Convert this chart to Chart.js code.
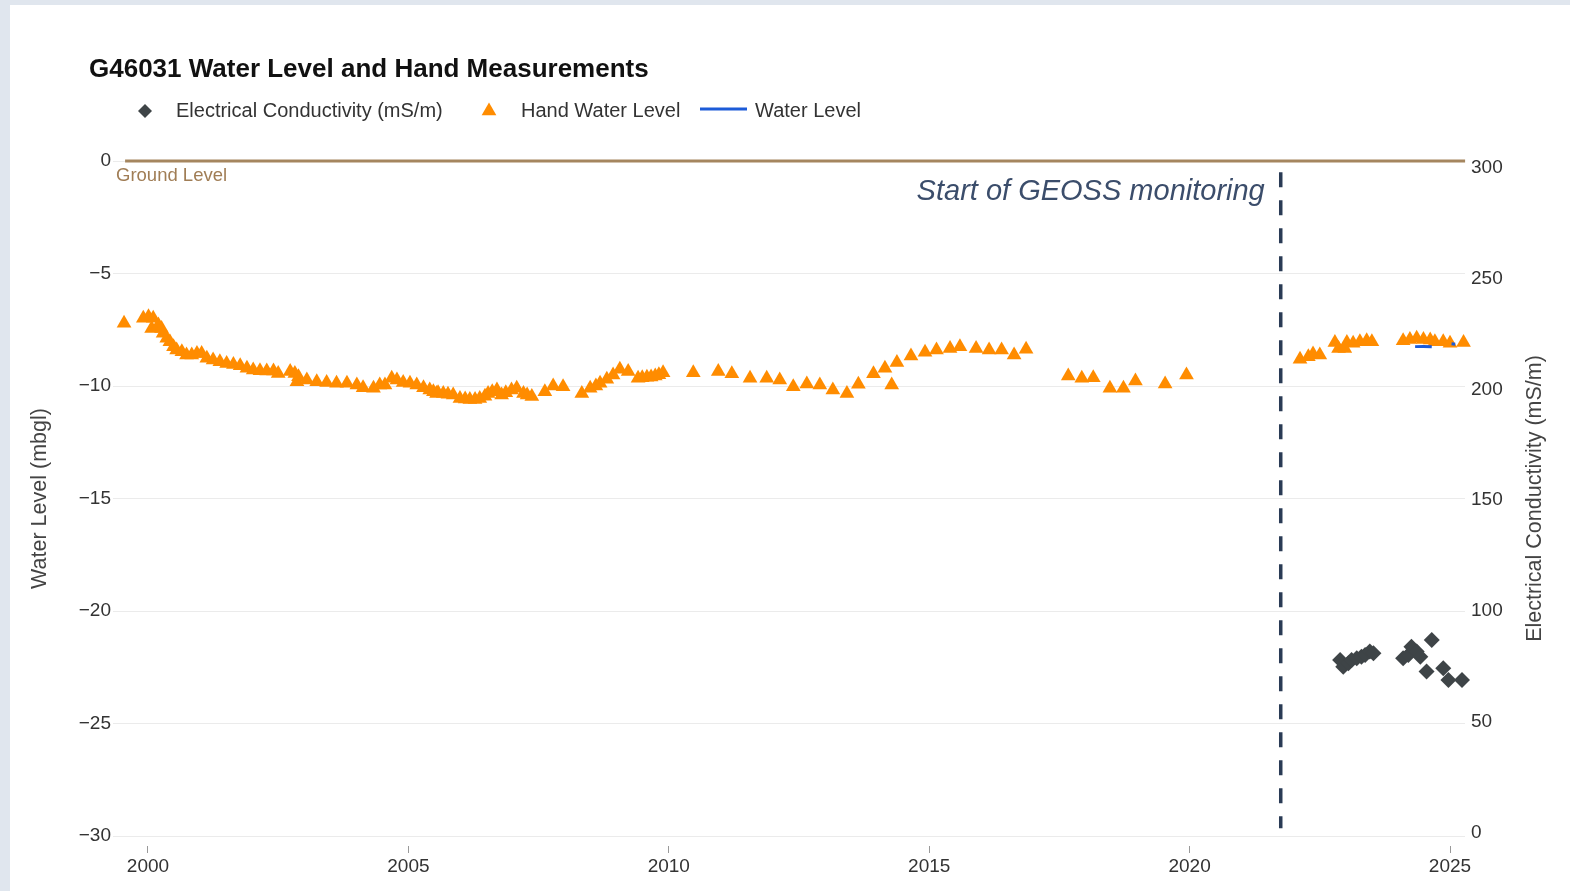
<!DOCTYPE html>
<html><head><meta charset="utf-8">
<script src="https://cdn.jsdelivr.net/npm/chart.js@4.4.1/dist/chart.umd.min.js"></script>
<style>
html,body{margin:0;padding:0;background:#e0e6ee;width:1570px;height:891px;overflow:hidden}
#panel{position:absolute;left:10px;top:5px;width:1560px;height:886px;background:#fff}
</style></head><body>
<div id="panel"><canvas id="c"></canvas></div>
<script>
const chartTitle = 'G46031 Water Level and Hand Measurements';
const seriesNames = ['Electrical Conductivity (mS/m)', 'Hand Water Level', 'Water Level'];
const yLeftTitle = 'Water Level (mbgl)';
const yRightTitle = 'Electrical Conductivity (mS/m)';
const groundText = 'Ground Level';
const geossText = 'Start of GEOSS monitoring';
const xTicks = [2000, 2005, 2010, 2015, 2020, 2025];
const yLeftTicks = [0, -5, -10, -15, -20, -25, -30];
const yRightTicks = [0, 50, 100, 150, 200, 250, 300];

const handDates = [1999.54,1999.91,2000.01,2000.07,2000.10,2000.20,2000.26,2000.29,2000.36,2000.42,2000.49,2000.55,2000.65,2000.74,2000.84,2000.94,2001.03,2001.13,2001.25,2001.38,2001.51,2001.64,2001.77,2001.90,2002.02,2002.15,2002.28,2002.41,2002.50,2002.73,2002.82,2002.86,2002.89,2003.05,2003.24,2003.43,2003.62,2003.82,2004.01,2004.13,2004.33,2004.45,2004.55,2004.68,2004.78,2004.90,2005.03,2005.16,2005.29,2005.41,2005.48,2005.54,2005.57,2005.67,2005.76,2005.86,2005.99,2006.09,2006.18,2006.28,2006.37,2006.47,2006.53,2006.61,2006.70,2006.79,2006.87,2006.98,2007.08,2007.21,2007.28,2007.37,2007.62,2007.78,2007.97,2008.33,2008.49,2008.60,2008.68,2008.81,2008.93,2009.06,2009.22,2009.41,2009.49,2009.58,2009.66,2009.74,2009.81,2009.89,2010.47,2010.95,2011.21,2011.56,2011.88,2012.13,2012.39,2012.65,2012.90,2013.15,2013.42,2013.64,2013.93,2014.15,2014.28,2014.38,2014.65,2014.92,2015.14,2015.40,2015.59,2015.90,2016.15,2016.39,2016.63,2016.86,2017.67,2017.93,2018.15,2018.47,2018.73,2018.96,2019.53,2019.94,2022.12,2022.28,2022.37,2022.50,2022.79,2022.86,2022.98,2023.02,2023.14,2023.27,2023.40,2023.50,2024.10,2024.23,2024.36,2024.49,2024.62,2024.71,2024.87,2025.00,2025.26];
const handLevels = [-7.21,-6.99,-6.92,-7.44,-6.99,-7.29,-7.44,-7.66,-7.88,-8.03,-8.25,-8.40,-8.48,-8.62,-8.62,-8.55,-8.55,-8.77,-8.84,-8.92,-9.00,-9.04,-9.10,-9.21,-9.29,-9.32,-9.33,-9.33,-9.44,-9.36,-9.44,-9.81,-9.59,-9.73,-9.81,-9.84,-9.88,-9.88,-9.96,-10.08,-10.10,-9.96,-9.96,-9.66,-9.73,-9.84,-9.88,-9.96,-10.08,-10.18,-10.25,-10.33,-10.30,-10.33,-10.37,-10.40,-10.55,-10.58,-10.60,-10.60,-10.55,-10.45,-10.33,-10.25,-10.18,-10.40,-10.30,-10.18,-10.10,-10.33,-10.40,-10.47,-10.25,-10.00,-10.03,-10.33,-10.10,-10.00,-9.88,-9.70,-9.51,-9.26,-9.36,-9.66,-9.63,-9.61,-9.60,-9.56,-9.50,-9.41,-9.41,-9.36,-9.46,-9.66,-9.66,-9.73,-10.03,-9.91,-9.96,-10.18,-10.33,-9.92,-9.46,-9.21,-9.96,-8.96,-8.67,-8.50,-8.40,-8.33,-8.25,-8.33,-8.40,-8.40,-8.62,-8.37,-9.56,-9.66,-9.63,-10.10,-10.10,-9.78,-9.91,-9.51,-8.81,-8.70,-8.58,-8.62,-8.07,-8.33,-8.33,-8.07,-8.10,-8.03,-7.99,-8.03,-7.99,-7.93,-7.88,-7.93,-7.96,-8.03,-8.03,-8.10,-8.07];

const ecDates = [2022.89,2022.95,2023.05,2023.11,2023.21,2023.30,2023.37,2023.46,2023.53,2024.10,2024.20,2024.26,2024.36,2024.43,2024.55,2024.65,2024.87,2024.97,2025.23];
const ecValues = [77.9,74.9,76.4,77.9,78.7,79.4,80.2,81.7,80.9,78.7,80.2,83.9,81.7,79.4,72.7,86.9,74.2,68.9,68.9];

const wlDates = [2024.33,2024.49,2024.65,2024.85,2025.03,2025.10];
const wlLevels = [-8.25,-8.24,-8.26,null,-8.12,-8.14];

const groundDates = [1999.56, 2025.29];
const groundLevels = [0, 0];
const geossDates = [2021.75, 2021.75];
const geossLevels = [-0.5, -29.65];

const FONT = '"Liberation Sans", Arial, Helvetica, sans-serif';
const C_EC = '#3e4447', C_HAND = '#ff8c00', C_WL = '#1c5bd8', C_GROUND = '#a5865f', C_GEOSS = '#2a3b55';

const pts = (xs, ys) => xs.map((x, i) => ({x: x, y: ys[i]}));

const overlay = {
  id: 'overlay',
  afterDraw(chart) {
    const ctx = chart.ctx;
    const xs = chart.scales.x, ys = chart.scales.y;
    ctx.save();
    ctx.textBaseline = 'middle';
    ctx.textAlign = 'left';
    ctx.fillStyle = '#111';
    ctx.font = 'bold 26px ' + FONT;
    ctx.fillText(chartTitle, 79, 65);
    // legend
    const ly = 106;
    ctx.font = '20px ' + FONT;
    ctx.fillStyle = C_EC;
    ctx.beginPath();
    ctx.moveTo(135 - 7, ly); ctx.lineTo(135, ly - 7); ctx.lineTo(135 + 7, ly); ctx.lineTo(135, ly + 7);
    ctx.closePath(); ctx.fill();
    ctx.fillStyle = '#333';
    ctx.fillText(seriesNames[0], 166, ly);
    ctx.fillStyle = C_HAND;
    const r = 8.5, tx = 479, ty = ly;
    ctx.beginPath();
    ctx.moveTo(tx, ty - r); ctx.lineTo(tx + r * 0.866, ty + r / 2); ctx.lineTo(tx - r * 0.866, ty + r / 2);
    ctx.closePath(); ctx.fill();
    ctx.fillStyle = '#333';
    ctx.fillText(seriesNames[1], 511, ly);
    ctx.strokeStyle = C_WL; ctx.lineWidth = 3;
    ctx.beginPath(); ctx.moveTo(690, ly - 2); ctx.lineTo(737, ly - 2); ctx.stroke();
    ctx.fillText(seriesNames[2], 745, ly);
    // ground label
    ctx.font = '18.5px ' + FONT;
    ctx.fillStyle = '#a07d55';
    ctx.fillText(groundText, 106, ys.getPixelForValue(0) + 15);
    // GEOSS annotation
    ctx.font = 'italic 29px ' + FONT;
    ctx.fillStyle = '#3b4d6b';
    ctx.textAlign = 'right';
    ctx.fillText(geossText, xs.getPixelForValue(geossDates[0]) - 16, 187);
    // right axis title (reads bottom to top)
    const a = chart.chartArea;
    ctx.translate(1525, (a.top + a.bottom) / 2);
    ctx.rotate(-Math.PI / 2);
    ctx.textAlign = 'center';
    ctx.fillStyle = '#444';
    ctx.font = '21.5px ' + FONT;
    ctx.fillText(yRightTitle, 0, 0);
    ctx.restore();
  }
};

new Chart(document.getElementById('c'), {
  type: 'scatter',
  data: {
    datasets: [
      {type: 'line', label: 'ground', data: pts(groundDates, groundLevels), borderColor: C_GROUND, borderWidth: 3, pointRadius: 0, yAxisID: 'y', order: 5, clip: false},
      {type: 'line', label: 'geoss', data: pts(geossDates, geossLevels), borderColor: C_GEOSS, borderWidth: 3.5, borderDash: [15, 13], pointRadius: 0, yAxisID: 'y', order: 4, clip: false},
      {label: seriesNames[0], data: pts(ecDates, ecValues), yAxisID: 'y2', pointStyle: 'rectRot', pointRadius: 8, backgroundColor: C_EC, borderWidth: 0, order: 3, clip: false},
      {label: seriesNames[1], data: pts(handDates, handLevels), yAxisID: 'y', pointStyle: 'triangle', pointRadius: 8.5, backgroundColor: C_HAND, borderWidth: 0, order: 2, clip: false},
      {type: 'line', label: seriesNames[2], data: pts(wlDates, wlLevels), yAxisID: 'y', borderColor: C_WL, borderWidth: 3, pointRadius: 0, spanGaps: false, order: 1, clip: false}
    ]
  },
  options: {
    responsive: true,
    maintainAspectRatio: false,
    animation: false,
    events: [],
    layout: {padding: {top: 156, left: 0, right: 0, bottom: 0}},
    plugins: {legend: {display: false}, title: {display: false}, tooltip: {enabled: false}},
    scales: {
      x: {
        type: 'linear', min: 1999.328, max: 2025.288,
        afterBuildTicks: s => { s.ticks = xTicks.map(v => ({value: v})); },
        afterFit: s => { s.height = 55; },
        border: {display: false},
        grid: {drawOnChartArea: false, drawTicks: true, tickLength: 17, tickColor: '#999', tickWidth: 1, tickBorderDash: [0, 10, 7, 100]},
        ticks: {padding: 2, color: '#333', font: {family: FONT, size: 19}, callback: v => String(v), maxRotation: 0}
      },
      y: {
        type: 'linear', position: 'left', min: -30, max: 0,
        afterBuildTicks: s => { s.ticks = yLeftTicks.map(v => ({value: v})); },
        afterFit: s => { s.width = 103; },
        border: {display: false},
        grid: {color: '#ebebeb', lineWidth: 1, drawTicks: false},
        ticks: {padding: 2, color: '#333', font: {family: FONT, size: 19}, callback: v => v === 0 ? '0' : '\u2212' + Math.abs(v)},
        title: {display: true, text: yLeftTitle, color: '#444', font: {family: FONT, size: 21.5}, padding: {top: 17, bottom: 0}}
      },
      y2: {
        type: 'linear', position: 'right', min: -1.5, max: 303,
        afterBuildTicks: s => { s.ticks = yRightTicks.map(v => ({value: v})); },
        afterFit: s => { s.width = 105; },
        border: {display: false},
        grid: {drawOnChartArea: false, drawTicks: false},
        ticks: {padding: 6, color: '#333', font: {family: FONT, size: 19}, callback: v => String(v)}
      }
    }
  },
  plugins: [overlay]
});
</script>
</body></html>
